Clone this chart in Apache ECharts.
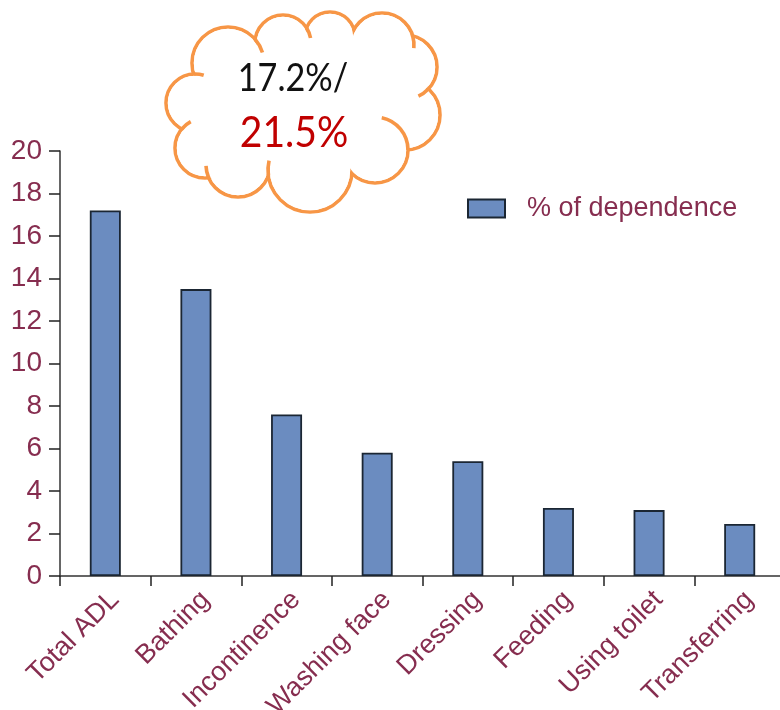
<!DOCTYPE html>
<html>
<head>
<meta charset="utf-8">
<script src="https://cdn.jsdelivr.net/npm/echarts@6/dist/echarts.min.js"></script>
<style>
  html, body { margin: 0; padding: 0; background: #ffffff; }
  #chart { width: 780px; height: 710px; }
</style>
</head>
<body>
<div id="chart"></div>
<script>
// ADL items and share of dependent participants (%)
const categories = ['Total ADL', 'Bathing', 'Incontinence', 'Washing face', 'Dressing', 'Feeding', 'Using toilet', 'Transferring'];
const dependence = [17.2, 13.5, 7.6, 5.8, 5.4, 3.2, 3.1, 2.45];
const seriesName = '% of dependence';
const yMin = 0;
const yMax = 20;
const yStep = 2;
// callout text inside the cloud
const calloutTop = '17.2%/';
const calloutBottom = '21.5%';

const maroon = '#862d4f';
const orange = '#f79646';

// cloud outline built from overlapping circles [cx, cy, r], listed clockwise
const bumps = [
  [228, 63, 36], [283, 43, 28], [330, 37, 25], [382, 45, 32],
  [405, 67, 32], [405, 115, 35], [375, 150, 33], [310, 170, 42],
  [238, 165, 32], [205, 148, 30], [195, 103, 29]
];
const cloudCenter = [305, 105];
const deg = Math.PI / 180;
const lw = 3.6;
const cloud = [];
bumps.forEach(([cx, cy, r]) => {
  cloud.push({ type: 'circle', z: 100, shape: { cx, cy, r },
    style: { fill: '#fff', stroke: orange, lineWidth: lw } });
});
bumps.forEach(([cx, cy, r]) => {
  cloud.push({ type: 'circle', z: 101, shape: { cx, cy, r: r - lw / 2 },
    style: { fill: '#fff' } });
});
cloud.push({ type: 'polygon', z: 101, shape: { points: bumps.map(b => [b[0], b[1]]) },
  style: { fill: '#fff' } });

// outer crossing point of two neighbouring bumps
function crossing(a, b) {
  const [x1, y1, r1] = a, [x2, y2, r2] = b;
  const dx = x2 - x1, dy = y2 - y1, d = Math.hypot(dx, dy);
  const k = (r1 * r1 - r2 * r2 + d * d) / (2 * d);
  const h = Math.sqrt(Math.max(r1 * r1 - k * k, 0));
  const mx = x1 + k * dx / d, my = y1 + k * dy / d;
  const p = [mx - h * dy / d, my + h * dx / d];
  const q = [mx + h * dy / d, my - h * dx / d];
  const dist = pt => Math.hypot(pt[0] - cloudCenter[0], pt[1] - cloudCenter[1]);
  return dist(p) > dist(q) ? p : q;
}
function arcOf(c, a0, a1) {
  return { type: 'arc', z: 102,
    shape: { cx: c[0], cy: c[1], r: c[2], startAngle: a0, endAngle: a1 },
    style: { fill: null, stroke: orange, lineWidth: lw } };
}
// small fold strokes that continue each bump past its neighbour
const tails = { 0: 24, 1: 22, 3: 22, 4: 22, 7: 20, 8: 22, 9: 22, 10: 20 };
Object.keys(tails).forEach(key => {
  const i = Number(key);
  const c = bumps[i], n = bumps[(i + 1) % bumps.length];
  const p = crossing(c, n);
  const a = Math.atan2(p[1] - c[1], p[0] - c[0]);
  cloud.push(arcOf(c, a, a + tails[key] * deg));
});
// longer fold on the lower right bump
(function () {
  const c = bumps[6], prev = bumps[5];
  const p = crossing(prev, c);
  const a = Math.atan2(p[1] - c[1], p[0] - c[0]);
  cloud.push(arcOf(c, a - 78 * deg, a));
})();

cloud.push({ type: 'text', z: 103, x: 293, y: 79, scaleX: 0.9,
  style: { text: calloutTop, fill: '#111', font: '38px Lato', align: 'center', verticalAlign: 'middle' } });
cloud.push({ type: 'text', z: 103, x: 294, y: 133, scaleX: 0.93,
  style: { text: calloutBottom, fill: '#c00000', font: '42px Lato', align: 'center', verticalAlign: 'middle' } });

const chart = echarts.init(document.getElementById('chart'), null, { renderer: 'canvas' });
chart.setOption({
  animation: false,
  backgroundColor: '#ffffff',
  grid: { left: 60, right: -5, top: 151, bottom: 134, containLabel: false, outerBoundsMode: 'none' },
  legend: {
    left: 467, top: 195, padding: 0,
    itemWidth: 37, itemHeight: 18,
    icon: 'rect',
    textStyle: { fontSize: 27, color: maroon, fontFamily: 'Liberation Sans', padding: [0, 0, 0, 17] },
    data: [seriesName]
  },
  xAxis: {
    type: 'category',
    data: categories,
    boundaryGap: true,
    axisLine: { lineStyle: { color: '#333', width: 1.5 } },
    axisTick: { show: true, length: 10, alignWithLabel: false, lineStyle: { color: '#222', width: 1.5 } },
    axisLabel: {
      rotate: 45, interval: 0, margin: 10,
      fontSize: 27, color: maroon, fontFamily: 'Liberation Sans',
      verticalAlign: 'top'
    }
  },
  yAxis: {
    type: 'value',
    min: yMin, max: yMax, interval: yStep,
    splitLine: { show: false },
    axisLine: { show: true, lineStyle: { color: '#333', width: 1.5 } },
    axisTick: { show: true, length: 11, lineStyle: { color: '#222', width: 1.5 } },
    axisLabel: { fontSize: 28, color: maroon, fontFamily: 'Liberation Sans', margin: 18 }
  },
  series: [{
    name: seriesName,
    type: 'bar',
    data: dependence,
    barWidth: 31,
    itemStyle: { color: '#6b8cc0', borderColor: '#1b2633', borderWidth: 1.8 }
  }],
  graphic: cloud
});
</script>
</body>
</html>
